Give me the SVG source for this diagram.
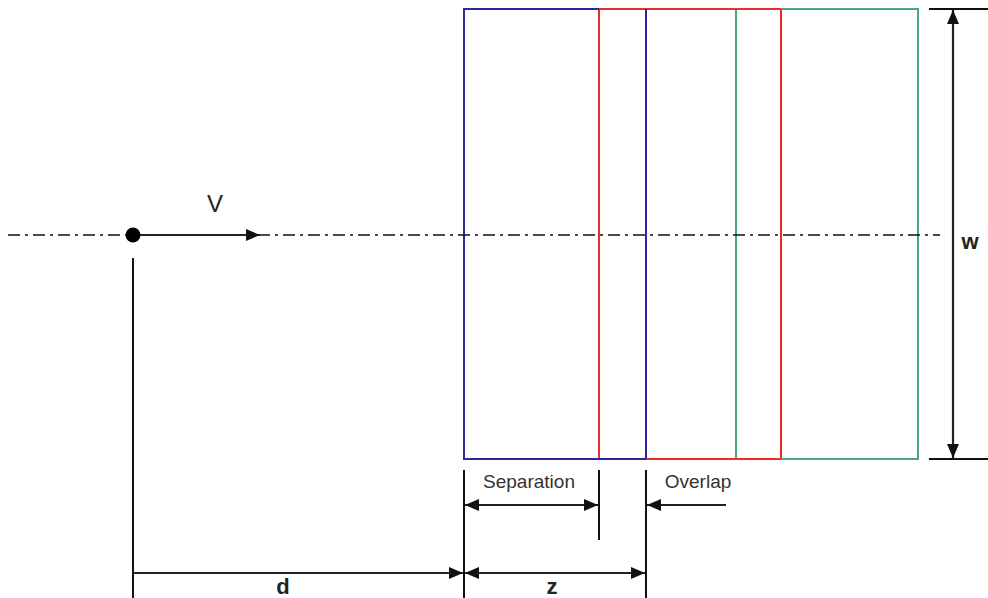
<svg xmlns="http://www.w3.org/2000/svg" width="988" height="598" viewBox="0 0 988 598">
<style>
.t{font-family:"Liberation Sans",Arial,sans-serif;fill:#222}
.b{font-weight:bold;font-size:22px}
.s{font-size:19px;fill:#333}
.ln{stroke:#111;stroke-width:2;fill:none}
.dim{stroke:#222;stroke-width:2.2;fill:none}
</style>
<defs>
<marker id="ah" viewBox="0 0 14 12" refX="14" refY="6" markerWidth="14" markerHeight="12" markerUnits="userSpaceOnUse" orient="auto-start-reverse">
<path d="M0,0 L14,6 L0,12 Z" fill="#111"/>
</marker>
</defs>
<g id="blue-panel"><rect x="464" y="9" width="182" height="450" fill="none" stroke="#2a2a9a" stroke-width="2"/></g>
<g id="red-panel"><rect x="599" y="9" width="182" height="450" fill="none" stroke="#ee2a2a" stroke-width="2"/></g>
<g id="green-panel"><rect x="736" y="9" width="182" height="450" fill="none" stroke="#4aa878" stroke-width="2"/></g>
<g id="redfix"><line x1="646" y1="459" x2="781" y2="459" stroke="#ee2a2a" stroke-width="2"/><line x1="646" y1="9" x2="781" y2="9" stroke="#ee2a2a" stroke-width="2"/><line x1="464" y1="9" x2="599" y2="9" stroke="#2a2a9a" stroke-width="2"/><line x1="464" y1="459" x2="646" y2="459" stroke="#2a2a9a" stroke-width="2"/><line x1="646" y1="9" x2="646" y2="459" stroke="#2a2a9a" stroke-width="2"/></g>
<g id="connectors">
<line x1="8" y1="235" x2="940" y2="235" stroke="#111" stroke-width="1.6" stroke-dasharray="12 5 3 5"/>
<line class="dim" x1="133" y1="235" x2="260" y2="235" marker-end="url(#ah)"/>
<line class="ln" x1="133" y1="258" x2="133" y2="598"/>
<line class="ln" x1="464" y1="470" x2="464" y2="598"/>
<line class="ln" x1="646" y1="470" x2="646" y2="598"/>
<line class="ln" x1="599" y1="470" x2="599" y2="540"/>
<line class="dim" x1="134" y1="573" x2="463" y2="573" marker-end="url(#ah)"/>
<line class="dim" x1="465" y1="573" x2="645" y2="573" marker-start="url(#ah)" marker-end="url(#ah)"/>
<line class="dim" x1="465" y1="505" x2="598" y2="505" marker-start="url(#ah)" marker-end="url(#ah)"/>
<line class="dim" x1="726" y1="505" x2="647" y2="505" marker-end="url(#ah)"/>
<line class="ln" x1="929" y1="9" x2="988" y2="9"/>
<line class="ln" x1="929" y1="459" x2="988" y2="459"/>
<line class="dim" x1="953" y1="10" x2="953" y2="458" marker-start="url(#ah)" marker-end="url(#ah)"/>
</g>
<g id="point"><circle cx="133" cy="235" r="7.5" fill="#000"/></g>
<g id="labels">
<text class="t" x="215" y="212" font-size="24" text-anchor="middle">V</text>
<text class="t b" x="970" y="249" text-anchor="middle">w</text>
<text class="t b" x="283" y="594" text-anchor="middle">d</text>
<text class="t b" x="552" y="594" text-anchor="middle">z</text>
<text class="t s" x="529" y="488" text-anchor="middle">Separation</text>
<text class="t s" x="698" y="488" text-anchor="middle">Overlap</text>
</g>
</svg>
